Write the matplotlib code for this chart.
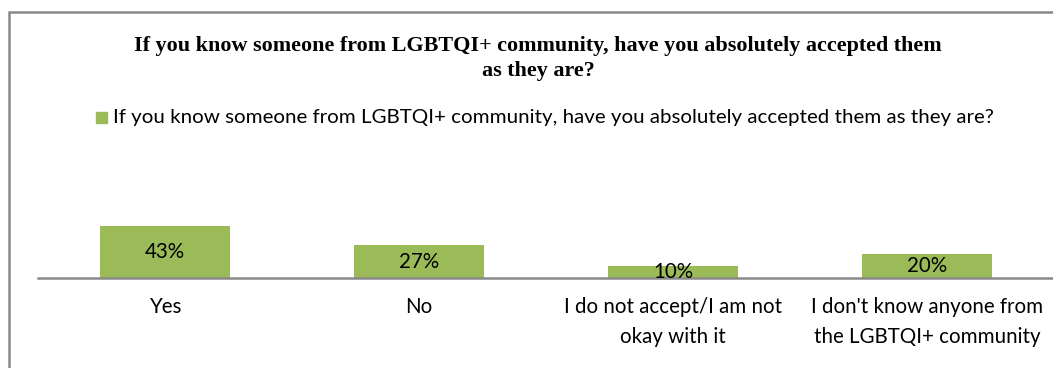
import matplotlib
matplotlib.use("Agg")
import matplotlib.pyplot as plt
from matplotlib.patches import Rectangle

categories = [
    "Yes",
    "No",
    "I do not accept/I am not\nokay with it",
    "I don't know anyone from\nthe LGBTQI+ community",
]
shares = [43, 27, 10, 20]
series_name = ("If you know someone from LGBTQI+ community, "
               "have you absolutely accepted them as they are?")
title = ("If you know someone from LGBTQI+ community, have you absolutely accepted them\n"
         "as they are?")

GREEN = "#9BBB59"
GRAY = "#898989"
W, H = 1053, 368


def main():
    fig = plt.figure(figsize=(W / 100, H / 100), dpi=100)
    sans = ["Lato", "DejaVu Sans"]

    # outer chart frame (runs off the right and bottom edges)
    fig.add_artist(Rectangle((8.5 / W, -0.1), 1.2, 1.1 - 12 / H, transform=fig.transFigure,
                             fill=False, edgecolor=GRAY, linewidth=1.8))

    fig.text(538 / W, 1 - 58.5 / H, title, ha="center", va="center", fontsize=15.9,
             fontweight="bold", family="Liberation Serif", linespacing=1.3)

    # legend entry
    fig.add_artist(Rectangle((96 / W, 1 - 123 / H), 11 / W, 11 / H,
                             transform=fig.transFigure, color=GREEN))
    fig.text(113 / W, 1 - 117.5 / H, series_name, ha="left", va="center",
             fontsize=14.75, family=sans)

    ax = fig.add_axes([38 / W, 1 - 278 / H, 1016 / W, 121 / H])
    x = range(len(categories))
    bars = ax.bar(x, shares, width=0.512, color=GREEN)
    for b, v in zip(bars, shares):
        ax.text(b.get_x() + b.get_width() / 2, v / 2, f"{v}%", ha="center",
                va="center", fontsize=14.8, family=sans)

    ax.set_xlim(-0.5, len(categories) - 0.5)
    ax.set_ylim(0, 100)
    for s in ["top", "right", "left"]:
        ax.spines[s].set_visible(False)
    ax.spines["bottom"].set_color(GRAY)
    ax.spines["bottom"].set_linewidth(1.8)
    ax.set_yticks([])
    ax.set_xticks(list(x))
    ax.set_xticklabels(categories, fontsize=14.8, family=sans, linespacing=1.6)
    ax.tick_params(axis="x", length=0, pad=14)

    fig.savefig("out.png", dpi=100)
    plt.close(fig)


if __name__ == "__main__":
    main()
